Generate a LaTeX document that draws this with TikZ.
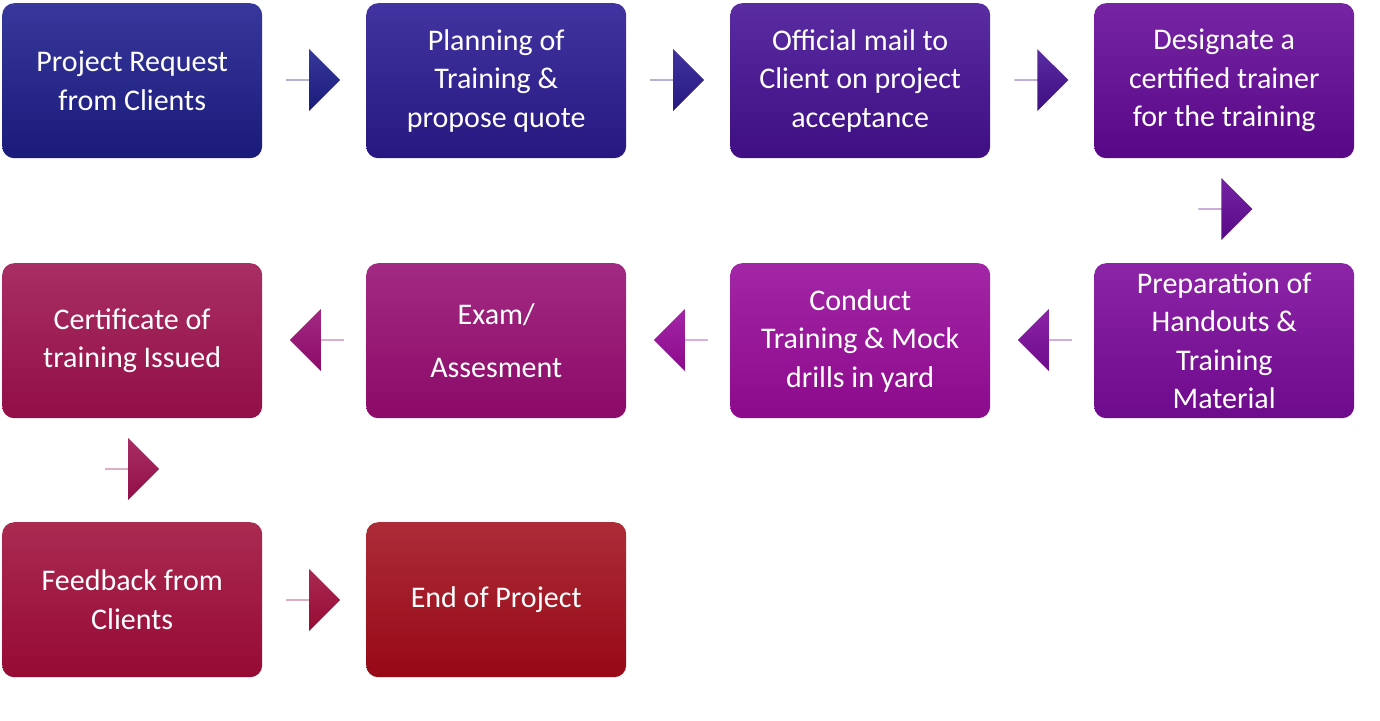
\documentclass[tikz,border=0pt]{standalone}
\usepackage{fontspec}
\setmainfont{Carlito}
\usetikzlibrary{shapes.arrows}
\begin{document}
\begin{tikzpicture}[x=1pt,y=-1pt,
  boxst/.style n args={2}{minimum width=260pt,minimum height=155pt,rounded corners=12pt,
    top color=#1,bottom color=#2,text=white,align=center,font=\fontsize{30}{38.5}\selectfont,inner sep=0pt,anchor=north west},
  arr/.style n args={3}{single arrow,minimum height=54pt,minimum width=62pt,single arrow head extend=13pt,
    single arrow head indent=0pt,inner sep=0pt,shape border rotate=#3,top color=#1,bottom color=#2}]
\useasboundingbox (0,0) rectangle (1380,720);
\definecolor{c1a}{RGB}{56,56,156}\definecolor{c1b}{RGB}{26,26,122}
\definecolor{c2a}{RGB}{66,52,160}\definecolor{c2b}{RGB}{38,24,128}
\definecolor{c3a}{RGB}{90,44,162}\definecolor{c3b}{RGB}{62,14,130}
\definecolor{c4a}{RGB}{118,36,164}\definecolor{c4b}{RGB}{88,8,134}
\definecolor{c5a}{RGB}{140,36,166}\definecolor{c5b}{RGB}{110,10,140}
\definecolor{c6a}{RGB}{162,38,166}\definecolor{c6b}{RGB}{140,10,140}
\definecolor{c7a}{RGB}{162,42,130}\definecolor{c7b}{RGB}{140,10,104}
\definecolor{c8a}{RGB}{168,46,100}\definecolor{c8b}{RGB}{146,14,70}
\definecolor{c9a}{RGB}{170,42,82}\definecolor{c9b}{RGB}{150,10,52}
\definecolor{c10a}{RGB}{172,44,56}\definecolor{c10b}{RGB}{152,8,22}
\node[boxst={c1a}{c1b}] (b1) at (2,3) {Project Request\\from Clients};
\node[boxst={c2a}{c2b}] (b2) at (366,3) {Planning of\\Training \&\\propose quote};
\node[boxst={c3a}{c3b}] (b3) at (730,3) {Official mail to\\Client on project\\acceptance};
\node[boxst={c4a}{c4b}] (b4) at (1094,3) {Designate a\\certified trainer\\for the training};
\node[boxst={c5a}{c5b}] (b5) at (1094,263) {Preparation of\\Handouts \&\\Training\\Material};
\node[boxst={c6a}{c6b}] (b6) at (730,263) {Conduct\\Training \& Mock\\drills in yard};
\node[boxst={c7a}{c7b}] (b7) at (366,263) {Exam/\\[14pt]Assesment};
\node[boxst={c8a}{c8b}] (b8) at (2,263) {Certificate of\\training Issued};
\node[boxst={c9a}{c9b}] (b9) at (2,522) {Feedback from\\Clients};
\node[boxst={c10a}{c10b}] (b10) at (366,522) {End of Project};
\node[arr={c1a}{c1b}{0}] (a1) at (313,80) {};
\node[arr={c2a}{c2b}{0}] (a2) at (677,80) {};
\node[arr={c3a}{c3b}{0}] (a3) at (1041,80) {};
\node[arr={c4a}{c4b}{-90}] (a4) at (1225,209) {};
\node[arr={c5a}{c5b}{180}] (a5) at (1045,340) {};
\node[arr={c6a}{c6b}{180}] (a6) at (681,340) {};
\node[arr={c7a}{c7b}{180}] (a7) at (317,340) {};
\node[arr={c8a}{c8b}{-90}] (a8) at (132,469) {};
\node[arr={c9a}{c9b}{0}] (a9) at (313,600) {};
\end{tikzpicture}
\end{document}
